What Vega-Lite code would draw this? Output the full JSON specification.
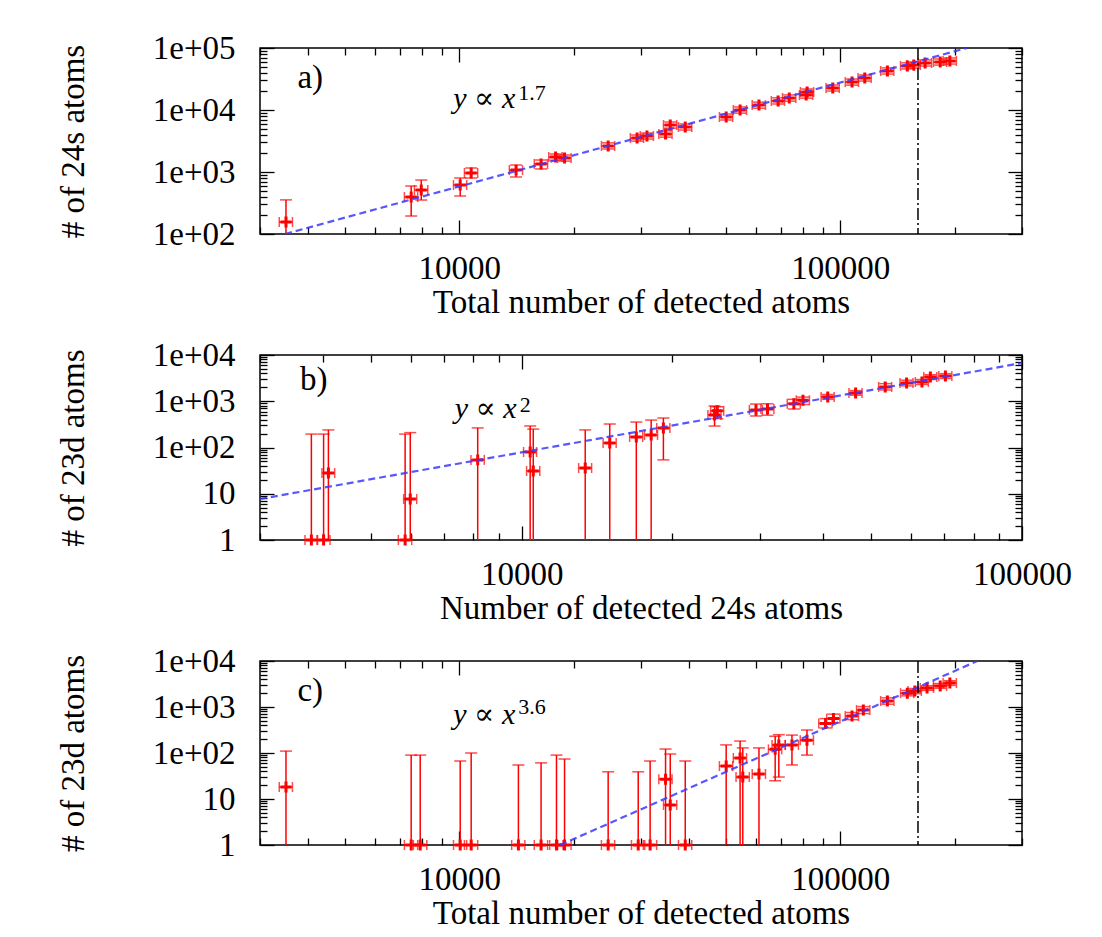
{
  "$schema": "https://vega.github.io/schema/vega-lite/v6.json",
  "padding": {"left": 56, "top": 31, "right": 10, "bottom": 5},
  "background": "white",
  "spacing": 18,
  "config": {
    "view": {"stroke": "black", "strokeWidth": 1.5},
    "font": "Liberation Serif, Times New Roman, DejaVu Serif, serif",
    "axis": {"domain": false, "grid": false, "labelFont": "Liberation Serif, Times New Roman, DejaVu Serif, serif", "labelFontSize": 33, "labelColor": "black", "titleFont": "Liberation Serif, Times New Roman, DejaVu Serif, serif", "titleFontSize": 33, "titleFontWeight": "normal", "titleColor": "black", "tickColor": "black", "tickWidth": 1.3, "labelFlush": false, "labelOverlap": false, "labelBound": false}
  },
  "datasets": {
    "one": [{}],
    "a": [
      {"x": 3510, "xlo": 3370, "xhi": 3650, "y": 156, "ylo": 60, "yhi": 355},
      {"x": 7480, "xlo": 7180, "xhi": 7780, "y": 395, "ylo": 195, "yhi": 594},
      {"x": 7950, "xlo": 7630, "xhi": 8270, "y": 512, "ylo": 353, "yhi": 742},
      {"x": 10060, "xlo": 9660, "xhi": 10460, "y": 616, "ylo": 410, "yhi": 800},
      {"x": 10750, "xlo": 10320, "xhi": 11180, "y": 964, "ylo": 800, "yhi": 1160},
      {"x": 14100, "xlo": 13540, "xhi": 14660, "y": 1073, "ylo": 830, "yhi": 1300},
      {"x": 16400, "xlo": 15740, "xhi": 17060, "y": 1350, "ylo": 1120, "yhi": 1560},
      {"x": 17900, "xlo": 17180, "xhi": 18620, "y": 1740, "ylo": 1550, "yhi": 1950},
      {"x": 18900, "xlo": 18140, "xhi": 19660, "y": 1680, "ylo": 1500, "yhi": 1880},
      {"x": 24600, "xlo": 23620, "xhi": 25580, "y": 2630, "ylo": 2350, "yhi": 2950},
      {"x": 29300, "xlo": 28130, "xhi": 30470, "y": 3530, "ylo": 3150, "yhi": 3950},
      {"x": 31100, "xlo": 29860, "xhi": 32340, "y": 3800, "ylo": 3400, "yhi": 4250},
      {"x": 34800, "xlo": 33410, "xhi": 36190, "y": 4100, "ylo": 3650, "yhi": 4600},
      {"x": 35800, "xlo": 34370, "xhi": 37230, "y": 5720, "ylo": 5100, "yhi": 6400},
      {"x": 39200, "xlo": 37630, "xhi": 40770, "y": 5320, "ylo": 4750, "yhi": 5950},
      {"x": 50200, "xlo": 48190, "xhi": 52210, "y": 7710, "ylo": 6900, "yhi": 8600},
      {"x": 54600, "xlo": 52420, "xhi": 56780, "y": 10000, "ylo": 8900, "yhi": 11200},
      {"x": 61200, "xlo": 58750, "xhi": 63650, "y": 12000, "ylo": 10700, "yhi": 13400},
      {"x": 68700, "xlo": 65950, "xhi": 71450, "y": 14000, "ylo": 12500, "yhi": 15700},
      {"x": 73500, "xlo": 70560, "xhi": 76440, "y": 15600, "ylo": 13900, "yhi": 17500},
      {"x": 81400, "xlo": 78140, "xhi": 84660, "y": 17400, "ylo": 15500, "yhi": 19500},
      {"x": 81900, "xlo": 78620, "xhi": 85180, "y": 19500, "ylo": 17400, "yhi": 21800},
      {"x": 95600, "xlo": 91780, "xhi": 99420, "y": 22600, "ylo": 20200, "yhi": 25300},
      {"x": 107400, "xlo": 103100, "xhi": 111700, "y": 28200, "ylo": 25200, "yhi": 31600},
      {"x": 116000, "xlo": 111400, "xhi": 120600, "y": 32800, "ylo": 29300, "yhi": 36700},
      {"x": 133000, "xlo": 127700, "xhi": 138300, "y": 42600, "ylo": 38000, "yhi": 47700},
      {"x": 150000, "xlo": 144000, "xhi": 156000, "y": 51400, "ylo": 46000, "yhi": 57600},
      {"x": 156000, "xlo": 149800, "xhi": 162200, "y": 53200, "ylo": 47500, "yhi": 59600},
      {"x": 167000, "xlo": 160300, "xhi": 173700, "y": 57300, "ylo": 51200, "yhi": 64200},
      {"x": 183000, "xlo": 175700, "xhi": 190300, "y": 59400, "ylo": 53000, "yhi": 66500},
      {"x": 194000, "xlo": 186200, "xhi": 201800, "y": 61700, "ylo": 55100, "yhi": 69100}
    ],
    "b": [
      {"x": 3800, "xlo": 3690, "xhi": 3910, "y": 1, "ylo": 0.3, "yhi": 195},
      {"x": 4020, "xlo": 3900, "xhi": 4140, "y": 1, "ylo": 0.3, "yhi": 195},
      {"x": 4110, "xlo": 3990, "xhi": 4230, "y": 28, "ylo": 0.3, "yhi": 240},
      {"x": 5850, "xlo": 5670, "xhi": 6030, "y": 1, "ylo": 0.3, "yhi": 195},
      {"x": 5990, "xlo": 5810, "xhi": 6170, "y": 7.7, "ylo": 0.3, "yhi": 210},
      {"x": 8170, "xlo": 7920, "xhi": 8420, "y": 54, "ylo": 0.3, "yhi": 265},
      {"x": 10400, "xlo": 10090, "xhi": 10710, "y": 80, "ylo": 0.3, "yhi": 292},
      {"x": 10550, "xlo": 10230, "xhi": 10870, "y": 31, "ylo": 0.3, "yhi": 250},
      {"x": 13400, "xlo": 13000, "xhi": 13800, "y": 36, "ylo": 0.3, "yhi": 240},
      {"x": 15000, "xlo": 14550, "xhi": 15450, "y": 125, "ylo": 0.3, "yhi": 322},
      {"x": 16950, "xlo": 16440, "xhi": 17460, "y": 169, "ylo": 0.3, "yhi": 355},
      {"x": 18150, "xlo": 17610, "xhi": 18690, "y": 187, "ylo": 0.3, "yhi": 392},
      {"x": 19200, "xlo": 18620, "xhi": 19780, "y": 264, "ylo": 54, "yhi": 434},
      {"x": 24300, "xlo": 23570, "xhi": 25030, "y": 505, "ylo": 291, "yhi": 790},
      {"x": 24600, "xlo": 23860, "xhi": 25340, "y": 620, "ylo": 420, "yhi": 760},
      {"x": 29400, "xlo": 28520, "xhi": 30280, "y": 650, "ylo": 480, "yhi": 870},
      {"x": 31000, "xlo": 30070, "xhi": 31930, "y": 680, "ylo": 500, "yhi": 880},
      {"x": 35000, "xlo": 33950, "xhi": 36050, "y": 880, "ylo": 680, "yhi": 1100},
      {"x": 36500, "xlo": 35400, "xhi": 37600, "y": 1050, "ylo": 850, "yhi": 1230},
      {"x": 40900, "xlo": 39670, "xhi": 42130, "y": 1240, "ylo": 1100, "yhi": 1400},
      {"x": 46500, "xlo": 45100, "xhi": 47900, "y": 1510, "ylo": 1350, "yhi": 1700},
      {"x": 53300, "xlo": 51700, "xhi": 54900, "y": 2040, "ylo": 1750, "yhi": 2400},
      {"x": 58800, "xlo": 57040, "xhi": 60560, "y": 2480, "ylo": 2150, "yhi": 2850},
      {"x": 63100, "xlo": 61210, "xhi": 64990, "y": 2610, "ylo": 2300, "yhi": 2950},
      {"x": 65600, "xlo": 63630, "xhi": 67570, "y": 3340, "ylo": 2950, "yhi": 3750},
      {"x": 70300, "xlo": 68190, "xhi": 72410, "y": 3510, "ylo": 3100, "yhi": 3950}
    ],
    "c": [
      {"x": 3510, "xlo": 3370, "xhi": 3650, "y": 18.2, "ylo": 0.3, "yhi": 110},
      {"x": 7480, "xlo": 7180, "xhi": 7780, "y": 1, "ylo": 0.3, "yhi": 90},
      {"x": 7900, "xlo": 7580, "xhi": 8220, "y": 1, "ylo": 0.3, "yhi": 90},
      {"x": 10060, "xlo": 9660, "xhi": 10460, "y": 1, "ylo": 0.3, "yhi": 67},
      {"x": 10750, "xlo": 10320, "xhi": 11180, "y": 1, "ylo": 0.3, "yhi": 100},
      {"x": 14300, "xlo": 13730, "xhi": 14870, "y": 1, "ylo": 0.3, "yhi": 55},
      {"x": 16400, "xlo": 15740, "xhi": 17060, "y": 1, "ylo": 0.3, "yhi": 61},
      {"x": 18000, "xlo": 17280, "xhi": 18720, "y": 1, "ylo": 0.3, "yhi": 90},
      {"x": 18900, "xlo": 18140, "xhi": 19660, "y": 1, "ylo": 0.3, "yhi": 74},
      {"x": 24600, "xlo": 23620, "xhi": 25580, "y": 1, "ylo": 0.3, "yhi": 39},
      {"x": 29500, "xlo": 28320, "xhi": 30680, "y": 1, "ylo": 0.3, "yhi": 39},
      {"x": 31700, "xlo": 30430, "xhi": 32970, "y": 1, "ylo": 0.3, "yhi": 67},
      {"x": 34800, "xlo": 33410, "xhi": 36190, "y": 27, "ylo": 0.3, "yhi": 122},
      {"x": 35800, "xlo": 34370, "xhi": 37230, "y": 7.4, "ylo": 0.3, "yhi": 95},
      {"x": 39200, "xlo": 37630, "xhi": 40770, "y": 1, "ylo": 0.3, "yhi": 67},
      {"x": 50200, "xlo": 48190, "xhi": 52210, "y": 52, "ylo": 0.3, "yhi": 150},
      {"x": 54600, "xlo": 52420, "xhi": 56780, "y": 78, "ylo": 0.3, "yhi": 182},
      {"x": 55500, "xlo": 53280, "xhi": 57720, "y": 30, "ylo": 0.3, "yhi": 129},
      {"x": 61200, "xlo": 58750, "xhi": 63650, "y": 35, "ylo": 0.3, "yhi": 129},
      {"x": 67500, "xlo": 64800, "xhi": 70200, "y": 120, "ylo": 25, "yhi": 230},
      {"x": 69000, "xlo": 66240, "xhi": 71760, "y": 150, "ylo": 30, "yhi": 250},
      {"x": 74700, "xlo": 71710, "xhi": 77690, "y": 150, "ylo": 55, "yhi": 245},
      {"x": 81800, "xlo": 78530, "xhi": 85070, "y": 190, "ylo": 90, "yhi": 316},
      {"x": 91500, "xlo": 87840, "xhi": 95160, "y": 440, "ylo": 350, "yhi": 560},
      {"x": 96000, "xlo": 92160, "xhi": 99840, "y": 560, "ylo": 450, "yhi": 700},
      {"x": 107400, "xlo": 103100, "xhi": 111700, "y": 635, "ylo": 530, "yhi": 760},
      {"x": 115000, "xlo": 110400, "xhi": 119600, "y": 860, "ylo": 720, "yhi": 1020},
      {"x": 133000, "xlo": 127700, "xhi": 138300, "y": 1350, "ylo": 1150, "yhi": 1580},
      {"x": 150000, "xlo": 144000, "xhi": 156000, "y": 2000, "ylo": 1750, "yhi": 2300},
      {"x": 157000, "xlo": 150700, "xhi": 163300, "y": 2220, "ylo": 1950, "yhi": 2520},
      {"x": 169000, "xlo": 162200, "xhi": 175800, "y": 2590, "ylo": 2300, "yhi": 2900},
      {"x": 183000, "xlo": 175700, "xhi": 190300, "y": 2870, "ylo": 2550, "yhi": 3230},
      {"x": 194000, "xlo": 186200, "xhi": 201800, "y": 3320, "ylo": 2950, "yhi": 3730}
    ],
    "fa": [{"x": 3490, "y": 100}, {"x": 215000, "y": 100000}],
    "fb": [{"x": 3000, "y": 7.7}, {"x": 100000, "y": 6700}],
    "fc": [{"x": 18400, "y": 1}, {"x": 229000, "y": 10000}]
  },
  "vconcat": [
    {
      "width": 762, "height": 186,
      "resolve": {"axis": {"x": "independent", "y": "independent"}},
      "layer": [
        {"data": {"name": "a"}, "mark": {"type": "rule", "color": "#ff0000", "strokeWidth": 1.5, "clip": true},
         "encoding": {
           "x": {"field": "x", "type": "quantitative", "scale": {"type": "log", "domain": [3000, 300000], "nice": false},
                 "axis": {"orient": "bottom", "values": [3000,4000,5000,6000,7000,8000,9000,10000,20000,30000,40000,50000,60000,70000,80000,90000,100000,200000,300000], "labelExpr": "datum.value == 10000 ? '10000' : datum.value == 100000 ? '100000' : ''", "tickSize": {"condition": {"test": "indexof([10000,100000], datum.value) >= 0", "value": -14}, "value": -7}, "labelPadding": 32, "title": "Total number of detected atoms", "titlePadding": -6}},
           "y": {"field": "ylo", "type": "quantitative", "scale": {"type": "log", "domain": [100, 100000], "nice": false},
                 "axis": {"orient": "left", "values": [100,200,300,400,500,600,700,800,900,1000,2000,3000,4000,5000,6000,7000,8000,9000,10000,20000,30000,40000,50000,60000,70000,80000,90000,100000], "labelExpr": "datum.value == 100 ? '1e+02' : datum.value == 1000 ? '1e+03' : datum.value == 10000 ? '1e+04' : datum.value == 100000 ? '1e+05' : ''", "tickSize": {"condition": {"test": "indexof([100,1000,10000,100000], datum.value) >= 0", "value": -14}, "value": -7}, "labelPadding": 39, "title": "# of 24s atoms", "titlePadding": 62}},
           "y2": {"field": "yhi"}
         }},
        {"data": {"name": "a"}, "mark": {"type": "rule", "color": "#ff0000", "strokeWidth": 1.5},
         "encoding": {
           "x": {"field": "xlo", "type": "quantitative", "scale": {"type": "log", "domain": [3000, 300000], "nice": false},
                 "axis": {"orient": "top", "values": [3000,4000,5000,6000,7000,8000,9000,10000,20000,30000,40000,50000,60000,70000,80000,90000,100000,200000,300000], "labels": false, "title": null, "tickSize": {"condition": {"test": "indexof([10000,100000], datum.value) >= 0", "value": -14}, "value": -7}}},
           "x2": {"field": "xhi"},
           "y": {"field": "y", "type": "quantitative", "scale": {"type": "log", "domain": [100, 100000], "nice": false},
                 "axis": {"orient": "right", "values": [100,200,300,400,500,600,700,800,900,1000,2000,3000,4000,5000,6000,7000,8000,9000,10000,20000,30000,40000,50000,60000,70000,80000,90000,100000], "labels": false, "title": null, "tickSize": {"condition": {"test": "indexof([100,1000,10000,100000], datum.value) >= 0", "value": -14}, "value": -7}}}
         }},
        {"data": {"name": "a"}, "mark": {"type": "tick", "orient": "horizontal", "size": 12, "thickness": 1.5, "color": "#ff0000", "clip": true},
         "encoding": {"x": {"field": "x", "type": "quantitative", "axis": null}, "y": {"field": "yhi", "type": "quantitative", "axis": null}}},
        {"data": {"name": "a"}, "mark": {"type": "tick", "orient": "horizontal", "size": 12, "thickness": 1.5, "color": "#ff0000", "clip": true},
         "encoding": {"x": {"field": "x", "type": "quantitative", "axis": null}, "y": {"field": "ylo", "type": "quantitative", "axis": null}}},
        {"data": {"name": "a"}, "mark": {"type": "tick", "orient": "vertical", "size": 10, "thickness": 1.5, "color": "#ff0000"},
         "encoding": {"x": {"field": "xlo", "type": "quantitative", "axis": null}, "y": {"field": "y", "type": "quantitative", "axis": null}}},
        {"data": {"name": "a"}, "mark": {"type": "tick", "orient": "vertical", "size": 10, "thickness": 1.5, "color": "#ff0000"},
         "encoding": {"x": {"field": "xhi", "type": "quantitative", "axis": null}, "y": {"field": "y", "type": "quantitative", "axis": null}}},
        {"data": {"name": "a"}, "mark": {"type": "point", "shape": "M-1,0L1,0M0,-1L0,1", "size": 120, "stroke": "#ff0000", "strokeWidth": 3, "filled": false, "opacity": 1},
         "encoding": {"x": {"field": "x", "type": "quantitative", "axis": null}, "y": {"field": "y", "type": "quantitative", "axis": null}}},
        {"data": {"name": "fa"}, "mark": {"type": "line", "color": "#3a3aff", "strokeDash": [7, 4], "strokeWidth": 2.2, "opacity": 0.85, "clip": true},
         "encoding": {"x": {"field": "x", "type": "quantitative", "axis": null}, "y": {"field": "y", "type": "quantitative", "axis": null}}},
        {"data": {"name": "one"}, "mark": {"type": "rule", "color": "black", "strokeDash": [12, 3, 2, 3], "strokeWidth": 1.5},
         "encoding": {"x": {"datum": 160000, "type": "quantitative", "axis": null}}},
        {"data": {"name": "one"}, "mark": {"type": "text", "text": "a)", "fontSize": 33, "align": "center", "baseline": "middle"},
         "encoding": {"x": {"datum": 4065, "type": "quantitative", "axis": null}, "y": {"datum": 32800, "type": "quantitative", "axis": null}}},
        {"data": {"name": "one"}, "mark": {"type": "text", "text": "y ∝ x", "fontStyle": "italic", "fontSize": 30, "align": "right", "baseline": "alphabetic"},
         "encoding": {"x": {"datum": 14030, "type": "quantitative", "axis": null}, "y": {"datum": 10770, "type": "quantitative", "axis": null}}},
        {"data": {"name": "one"}, "mark": {"type": "text", "text": "1.7", "fontSize": 22, "align": "left", "baseline": "alphabetic"},
         "encoding": {"x": {"datum": 14290, "type": "quantitative", "axis": null}, "y": {"datum": 14500, "type": "quantitative", "axis": null}}}
      ]
    },
    {
      "width": 762, "height": 185,
      "resolve": {"axis": {"x": "independent", "y": "independent"}},
      "layer": [
        {"data": {"name": "b"}, "mark": {"type": "rule", "color": "#ff0000", "strokeWidth": 1.5, "clip": true},
         "encoding": {
           "x": {"field": "x", "type": "quantitative", "scale": {"type": "log", "domain": [3000, 100000], "nice": false},
                 "axis": {"orient": "bottom", "values": [3000,4000,5000,6000,7000,8000,9000,10000,20000,30000,40000,50000,60000,70000,80000,90000,100000], "labelExpr": "datum.value == 10000 ? '10000' : datum.value == 100000 ? '100000' : ''", "tickSize": {"condition": {"test": "indexof([10000,100000], datum.value) >= 0", "value": -14}, "value": -7}, "labelPadding": 32, "title": "Number of detected 24s atoms", "titlePadding": -6}},
           "y": {"field": "ylo", "type": "quantitative", "scale": {"type": "log", "domain": [1, 10000], "nice": false},
                 "axis": {"orient": "left", "values": [1,2,3,4,5,6,7,8,9,10,20,30,40,50,60,70,80,90,100,200,300,400,500,600,700,800,900,1000,2000,3000,4000,5000,6000,7000,8000,9000,10000], "labelExpr": "datum.value == 1 ? '1' : datum.value == 10 ? '10' : datum.value == 100 ? '1e+02' : datum.value == 1000 ? '1e+03' : datum.value == 10000 ? '1e+04' : ''", "tickSize": {"condition": {"test": "indexof([1,10,100,1000,10000], datum.value) >= 0", "value": -14}, "value": -7}, "labelPadding": 39, "title": "# of 23d atoms", "titlePadding": 62}},
           "y2": {"field": "yhi"}
         }},
        {"data": {"name": "b"}, "mark": {"type": "rule", "color": "#ff0000", "strokeWidth": 1.5},
         "encoding": {
           "x": {"field": "xlo", "type": "quantitative", "scale": {"type": "log", "domain": [3000, 100000], "nice": false},
                 "axis": {"orient": "top", "values": [3000,4000,5000,6000,7000,8000,9000,10000,20000,30000,40000,50000,60000,70000,80000,90000,100000], "labels": false, "title": null, "tickSize": {"condition": {"test": "indexof([10000,100000], datum.value) >= 0", "value": -14}, "value": -7}}},
           "x2": {"field": "xhi"},
           "y": {"field": "y", "type": "quantitative", "scale": {"type": "log", "domain": [1, 10000], "nice": false},
                 "axis": {"orient": "right", "values": [1,2,3,4,5,6,7,8,9,10,20,30,40,50,60,70,80,90,100,200,300,400,500,600,700,800,900,1000,2000,3000,4000,5000,6000,7000,8000,9000,10000], "labels": false, "title": null, "tickSize": {"condition": {"test": "indexof([1,10,100,1000,10000], datum.value) >= 0", "value": -14}, "value": -7}}}
         }},
        {"data": {"name": "b"}, "mark": {"type": "tick", "orient": "horizontal", "size": 12, "thickness": 1.5, "color": "#ff0000", "clip": true},
         "encoding": {"x": {"field": "x", "type": "quantitative", "axis": null}, "y": {"field": "yhi", "type": "quantitative", "axis": null}}},
        {"data": {"name": "b"}, "mark": {"type": "tick", "orient": "horizontal", "size": 12, "thickness": 1.5, "color": "#ff0000", "clip": true},
         "encoding": {"x": {"field": "x", "type": "quantitative", "axis": null}, "y": {"field": "ylo", "type": "quantitative", "axis": null}}},
        {"data": {"name": "b"}, "mark": {"type": "tick", "orient": "vertical", "size": 10, "thickness": 1.5, "color": "#ff0000"},
         "encoding": {"x": {"field": "xlo", "type": "quantitative", "axis": null}, "y": {"field": "y", "type": "quantitative", "axis": null}}},
        {"data": {"name": "b"}, "mark": {"type": "tick", "orient": "vertical", "size": 10, "thickness": 1.5, "color": "#ff0000"},
         "encoding": {"x": {"field": "xhi", "type": "quantitative", "axis": null}, "y": {"field": "y", "type": "quantitative", "axis": null}}},
        {"data": {"name": "b"}, "mark": {"type": "point", "shape": "M-1,0L1,0M0,-1L0,1", "size": 120, "stroke": "#ff0000", "strokeWidth": 3, "filled": false, "opacity": 1},
         "encoding": {"x": {"field": "x", "type": "quantitative", "axis": null}, "y": {"field": "y", "type": "quantitative", "axis": null}}},
        {"data": {"name": "fb"}, "mark": {"type": "line", "color": "#3a3aff", "strokeDash": [7, 4], "strokeWidth": 2.2, "opacity": 0.85, "clip": true},
         "encoding": {"x": {"field": "x", "type": "quantitative", "axis": null}, "y": {"field": "y", "type": "quantitative", "axis": null}}},
        {"data": {"name": "one"}, "mark": {"type": "text", "text": "b)", "fontSize": 33, "align": "center", "baseline": "middle"},
         "encoding": {"x": {"datum": 3840, "type": "quantitative", "axis": null}, "y": {"datum": 2880, "type": "quantitative", "axis": null}}},
        {"data": {"name": "one"}, "mark": {"type": "text", "text": "y ∝ x", "fontStyle": "italic", "fontSize": 30, "align": "right", "baseline": "alphabetic"},
         "encoding": {"x": {"datum": 9773, "type": "quantitative", "axis": null}, "y": {"datum": 434, "type": "quantitative", "axis": null}}},
        {"data": {"name": "one"}, "mark": {"type": "text", "text": "2", "fontSize": 22, "align": "left", "baseline": "alphabetic"},
         "encoding": {"x": {"datum": 9909, "type": "quantitative", "axis": null}, "y": {"datum": 586, "type": "quantitative", "axis": null}}}
      ]
    },
    {
      "width": 762, "height": 184,
      "resolve": {"axis": {"x": "independent", "y": "independent"}},
      "layer": [
        {"data": {"name": "c"}, "mark": {"type": "rule", "color": "#ff0000", "strokeWidth": 1.5, "clip": true},
         "encoding": {
           "x": {"field": "x", "type": "quantitative", "scale": {"type": "log", "domain": [3000, 300000], "nice": false},
                 "axis": {"orient": "bottom", "values": [3000,4000,5000,6000,7000,8000,9000,10000,20000,30000,40000,50000,60000,70000,80000,90000,100000,200000,300000], "labelExpr": "datum.value == 10000 ? '10000' : datum.value == 100000 ? '100000' : ''", "tickSize": {"condition": {"test": "indexof([10000,100000], datum.value) >= 0", "value": -14}, "value": -7}, "labelPadding": 32, "title": "Total number of detected atoms", "titlePadding": -6}},
           "y": {"field": "ylo", "type": "quantitative", "scale": {"type": "log", "domain": [1, 10000], "nice": false},
                 "axis": {"orient": "left", "values": [1,2,3,4,5,6,7,8,9,10,20,30,40,50,60,70,80,90,100,200,300,400,500,600,700,800,900,1000,2000,3000,4000,5000,6000,7000,8000,9000,10000], "labelExpr": "datum.value == 1 ? '1' : datum.value == 10 ? '10' : datum.value == 100 ? '1e+02' : datum.value == 1000 ? '1e+03' : datum.value == 10000 ? '1e+04' : ''", "tickSize": {"condition": {"test": "indexof([1,10,100,1000,10000], datum.value) >= 0", "value": -14}, "value": -7}, "labelPadding": 39, "title": "# of 23d atoms", "titlePadding": 62}},
           "y2": {"field": "yhi"}
         }},
        {"data": {"name": "c"}, "mark": {"type": "rule", "color": "#ff0000", "strokeWidth": 1.5},
         "encoding": {
           "x": {"field": "xlo", "type": "quantitative", "scale": {"type": "log", "domain": [3000, 300000], "nice": false},
                 "axis": {"orient": "top", "values": [3000,4000,5000,6000,7000,8000,9000,10000,20000,30000,40000,50000,60000,70000,80000,90000,100000,200000,300000], "labels": false, "title": null, "tickSize": {"condition": {"test": "indexof([10000,100000], datum.value) >= 0", "value": -14}, "value": -7}}},
           "x2": {"field": "xhi"},
           "y": {"field": "y", "type": "quantitative", "scale": {"type": "log", "domain": [1, 10000], "nice": false},
                 "axis": {"orient": "right", "values": [1,2,3,4,5,6,7,8,9,10,20,30,40,50,60,70,80,90,100,200,300,400,500,600,700,800,900,1000,2000,3000,4000,5000,6000,7000,8000,9000,10000], "labels": false, "title": null, "tickSize": {"condition": {"test": "indexof([1,10,100,1000,10000], datum.value) >= 0", "value": -14}, "value": -7}}}
         }},
        {"data": {"name": "c"}, "mark": {"type": "tick", "orient": "horizontal", "size": 12, "thickness": 1.5, "color": "#ff0000", "clip": true},
         "encoding": {"x": {"field": "x", "type": "quantitative", "axis": null}, "y": {"field": "yhi", "type": "quantitative", "axis": null}}},
        {"data": {"name": "c"}, "mark": {"type": "tick", "orient": "horizontal", "size": 12, "thickness": 1.5, "color": "#ff0000", "clip": true},
         "encoding": {"x": {"field": "x", "type": "quantitative", "axis": null}, "y": {"field": "ylo", "type": "quantitative", "axis": null}}},
        {"data": {"name": "c"}, "mark": {"type": "tick", "orient": "vertical", "size": 10, "thickness": 1.5, "color": "#ff0000"},
         "encoding": {"x": {"field": "xlo", "type": "quantitative", "axis": null}, "y": {"field": "y", "type": "quantitative", "axis": null}}},
        {"data": {"name": "c"}, "mark": {"type": "tick", "orient": "vertical", "size": 10, "thickness": 1.5, "color": "#ff0000"},
         "encoding": {"x": {"field": "xhi", "type": "quantitative", "axis": null}, "y": {"field": "y", "type": "quantitative", "axis": null}}},
        {"data": {"name": "c"}, "mark": {"type": "point", "shape": "M-1,0L1,0M0,-1L0,1", "size": 120, "stroke": "#ff0000", "strokeWidth": 3, "filled": false, "opacity": 1},
         "encoding": {"x": {"field": "x", "type": "quantitative", "axis": null}, "y": {"field": "y", "type": "quantitative", "axis": null}}},
        {"data": {"name": "fc"}, "mark": {"type": "line", "color": "#3a3aff", "strokeDash": [7, 4], "strokeWidth": 2.2, "opacity": 0.85, "clip": true},
         "encoding": {"x": {"field": "x", "type": "quantitative", "axis": null}, "y": {"field": "y", "type": "quantitative", "axis": null}}},
        {"data": {"name": "one"}, "mark": {"type": "rule", "color": "black", "strokeDash": [12, 3, 2, 3], "strokeWidth": 1.5},
         "encoding": {"x": {"datum": 160000, "type": "quantitative", "axis": null}}},
        {"data": {"name": "one"}, "mark": {"type": "text", "text": "c)", "fontSize": 33, "align": "center", "baseline": "middle"},
         "encoding": {"x": {"datum": 4065, "type": "quantitative", "axis": null}, "y": {"datum": 2230, "type": "quantitative", "axis": null}}},
        {"data": {"name": "one"}, "mark": {"type": "text", "text": "y ∝ x", "fontStyle": "italic", "fontSize": 30, "align": "right", "baseline": "alphabetic"},
         "encoding": {"x": {"datum": 14030, "type": "quantitative", "axis": null}, "y": {"datum": 427, "type": "quantitative", "axis": null}}},
        {"data": {"name": "one"}, "mark": {"type": "text", "text": "3.6", "fontSize": 22, "align": "left", "baseline": "alphabetic"},
         "encoding": {"x": {"datum": 14290, "type": "quantitative", "axis": null}, "y": {"datum": 704, "type": "quantitative", "axis": null}}}
      ]
    }
  ]
}
